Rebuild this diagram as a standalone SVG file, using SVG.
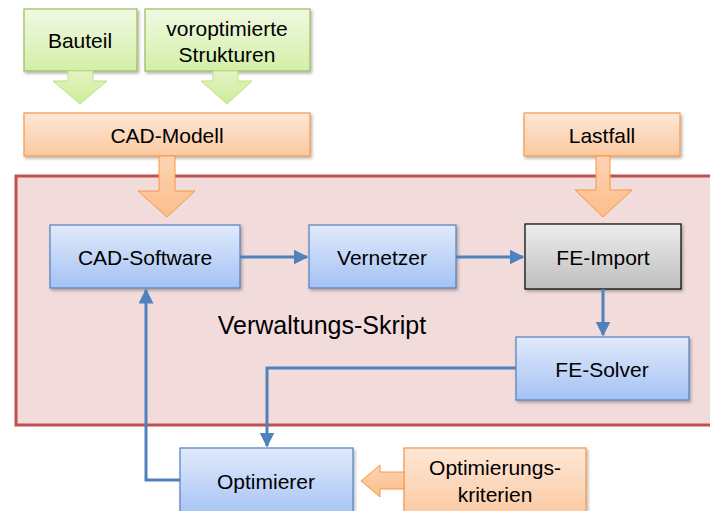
<svg xmlns="http://www.w3.org/2000/svg" width="710" height="511" viewBox="0 0 710 511">
<style>
text{font-family:"Liberation Sans",Arial,sans-serif;font-size:21px;fill:#000;text-anchor:middle;dominant-baseline:central}
.blue{fill:url(#gBlue);stroke:#4F81BD;stroke-width:1.2}
.gray{fill:url(#gGray);stroke:#000;stroke-width:1.2}
.orange{fill:url(#gOrange);stroke:#F79646;stroke-width:1.2}
.green{fill:url(#gGreen);stroke:#9BBB59;stroke-width:1.2}
.oarrow{fill:url(#gOrangeA);stroke:#F79646;stroke-width:1}
.garrow{fill:url(#gGreenA);stroke:#C3E07F;stroke-width:1}
.con{fill:none;stroke:#4F81BD;stroke-width:3}
</style>
<defs>
<linearGradient id="gBlue" x1="0" y1="0" x2="0" y2="1"><stop offset="0" stop-color="#E1EAFB"/><stop offset="1" stop-color="#A4C2F4"/></linearGradient>
<linearGradient id="gGray" x1="0" y1="0" x2="0" y2="1"><stop offset="0" stop-color="#EDEDED"/><stop offset="1" stop-color="#BEBEBE"/></linearGradient>
<linearGradient id="gOrange" x1="0" y1="0" x2="0" y2="1"><stop offset="0" stop-color="#FDE7D7"/><stop offset="1" stop-color="#FBC9A0"/></linearGradient>
<linearGradient id="gGreen" x1="0" y1="0" x2="0" y2="1"><stop offset="0" stop-color="#F0F9E2"/><stop offset="1" stop-color="#D3EFA7"/></linearGradient>
<linearGradient id="gOrangeA" x1="0" y1="0" x2="0" y2="1"><stop offset="0" stop-color="#FDD3B2"/><stop offset="1" stop-color="#FBBE8A"/></linearGradient>
<linearGradient id="gGreenA" x1="0" y1="0" x2="0" y2="1"><stop offset="0" stop-color="#E2F4C4"/><stop offset="1" stop-color="#CDEC98"/></linearGradient>
<filter id="sh" x="-10%" y="-10%" width="130%" height="140%"><feDropShadow dx="1.5" dy="2" stdDeviation="1.5" flood-color="#000" flood-opacity="0.3"/></filter>
<marker id="ah" viewBox="0 0 10 10" refX="9" refY="5" markerWidth="5" markerHeight="5" orient="auto" markerUnits="strokeWidth"><path d="M0,0 L10,5 L0,10 z" fill="#4F81BD"/></marker>
</defs>

<g id="container">
<rect x="16" y="176" width="704" height="249" fill="#F2DCDB" stroke="#C0504D" stroke-width="3"/>
<text x="322" y="325" style="font-size:25px">Verwaltungs-Skript</text>
</g>

<g id="bauteil">
<rect class="green" x="24" y="9" width="113" height="62" filter="url(#sh)"/>
<text x="80" y="40">Bauteil</text>
</g>
<g id="voroptimierte">
<rect class="green" x="145" y="9" width="165" height="62" filter="url(#sh)"/>
<text x="227" y="28">voroptimierte</text>
<text x="227" y="54">Strukturen</text>
</g>
<g id="arrow-bauteil">
<path class="garrow" d="M68,71 H93 V81 H107 L80,104 L53,81 H68 Z"/>
</g>
<g id="arrow-voroptimierte">
<path class="garrow" d="M213,71 H238 V81 H252 L227,104 L201,81 H213 Z"/>
</g>

<g id="cad-modell">
<rect class="orange" x="24" y="113" width="286" height="43" filter="url(#sh)"/>
<text x="167" y="135">CAD-Modell</text>
</g>
<g id="arrow-cad-modell">
<path class="oarrow" d="M159,156 H175 V191 H195 L167,217 L138,191 H159 Z"/>
</g>

<g id="lastfall">
<rect class="orange" x="524" y="113" width="156" height="43" filter="url(#sh)"/>
<text x="602" y="135">Lastfall</text>
</g>
<g id="arrow-lastfall">
<path class="oarrow" d="M596,156 H610 V190 H632 L603,217 L575,190 H596 Z"/>
</g>

<g id="cad-software">
<rect class="blue" x="50" y="225" width="190" height="63" filter="url(#sh)"/>
<text x="145" y="257">CAD-Software</text>
</g>
<g id="vernetzer">
<rect class="blue" x="309" y="225" width="147" height="63" filter="url(#sh)"/>
<text x="382" y="257">Vernetzer</text>
</g>
<g id="fe-import">
<rect class="gray" x="525" y="224" width="156" height="65" filter="url(#sh)"/>
<text x="603" y="257">FE-Import</text>
</g>
<g id="fe-solver">
<rect class="blue" x="516" y="337" width="173" height="63" filter="url(#sh)"/>
<text x="602" y="369">FE-Solver</text>
</g>
<g id="optimierer">
<rect class="blue" x="180" y="448" width="173" height="70" filter="url(#sh)"/>
<text x="266" y="481">Optimierer</text>
</g>
<g id="kriterien">
<rect class="orange" x="404" y="448" width="182" height="70" filter="url(#sh)"/>
<text x="495" y="467">Optimierungs-</text>
<text x="495" y="494">kriterien</text>
</g>
<g id="arrow-kriterien">
<path class="oarrow" d="M404,472 H380 V465 L361,481 L380,497 V489 H404 Z"/>
</g>

<g id="connectors">
<path class="con" d="M240,257 H307" marker-end="url(#ah)"/>
<path class="con" d="M456,257 H523" marker-end="url(#ah)"/>
<path class="con" d="M603,289 V335" marker-end="url(#ah)"/>
<path class="con" d="M516,368 H267 V446" marker-end="url(#ah)"/>
<path class="con" d="M180,480 H146 V290" marker-end="url(#ah)"/>
</g>
</svg>
